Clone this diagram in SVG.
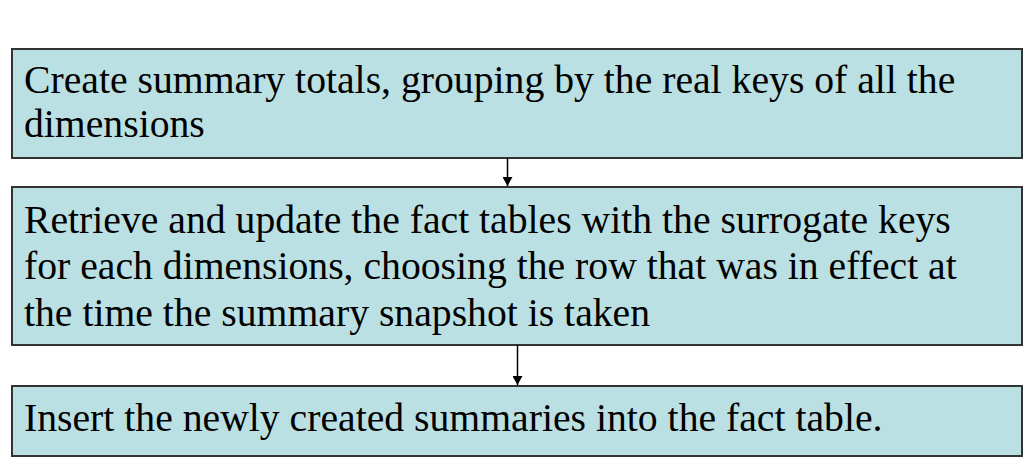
<svg xmlns="http://www.w3.org/2000/svg" width="1024" height="464" viewBox="0 0 1024 464">
<defs>
<style>
.box{fill:#BBE0E3;stroke:#333333;stroke-width:2}
.t{font-family:"Liberation Serif","Times New Roman",serif;font-size:39.7px;fill:#000}
.c{stroke:#000;stroke-width:1.5;fill:none}
</style>
<marker id="ah" markerWidth="10" markerHeight="10" refX="9" refY="5" orient="auto" markerUnits="userSpaceOnUse" viewBox="0 0 10 10">
<path d="M0,0 L9,5 L0,10 Z" fill="#000"/>
</marker>
</defs>
<rect width="1024" height="464" fill="#fff"/>
<g id="node1">
<rect class="box" x="12" y="49" width="1010" height="109"/>
<text class="t" x="24" y="93">Create summary totals, grouping by the real keys of all the</text>
<text class="t" x="24" y="137">dimensions</text>
</g>
<g id="node2">
<rect class="box" x="12" y="187" width="1010" height="158"/>
<text class="t" x="24" y="233">Retrieve and update the fact tables with the surrogate keys</text>
<text class="t" x="24" y="279">for each dimensions, choosing the row that was in effect at</text>
<text class="t" x="24" y="326">the time the summary snapshot is taken</text>
</g>
<g id="node3">
<rect class="box" x="12" y="386" width="1010" height="70"/>
<text class="t" x="24" y="431">Insert the newly created summaries into the fact table.</text>
</g>
<g id="connectors">
<line class="c" x1="507.5" y1="158" x2="507.5" y2="186" marker-end="url(#ah)"/>
<line class="c" x1="517.5" y1="345" x2="517.5" y2="385" marker-end="url(#ah)"/>
</g>
</svg>
